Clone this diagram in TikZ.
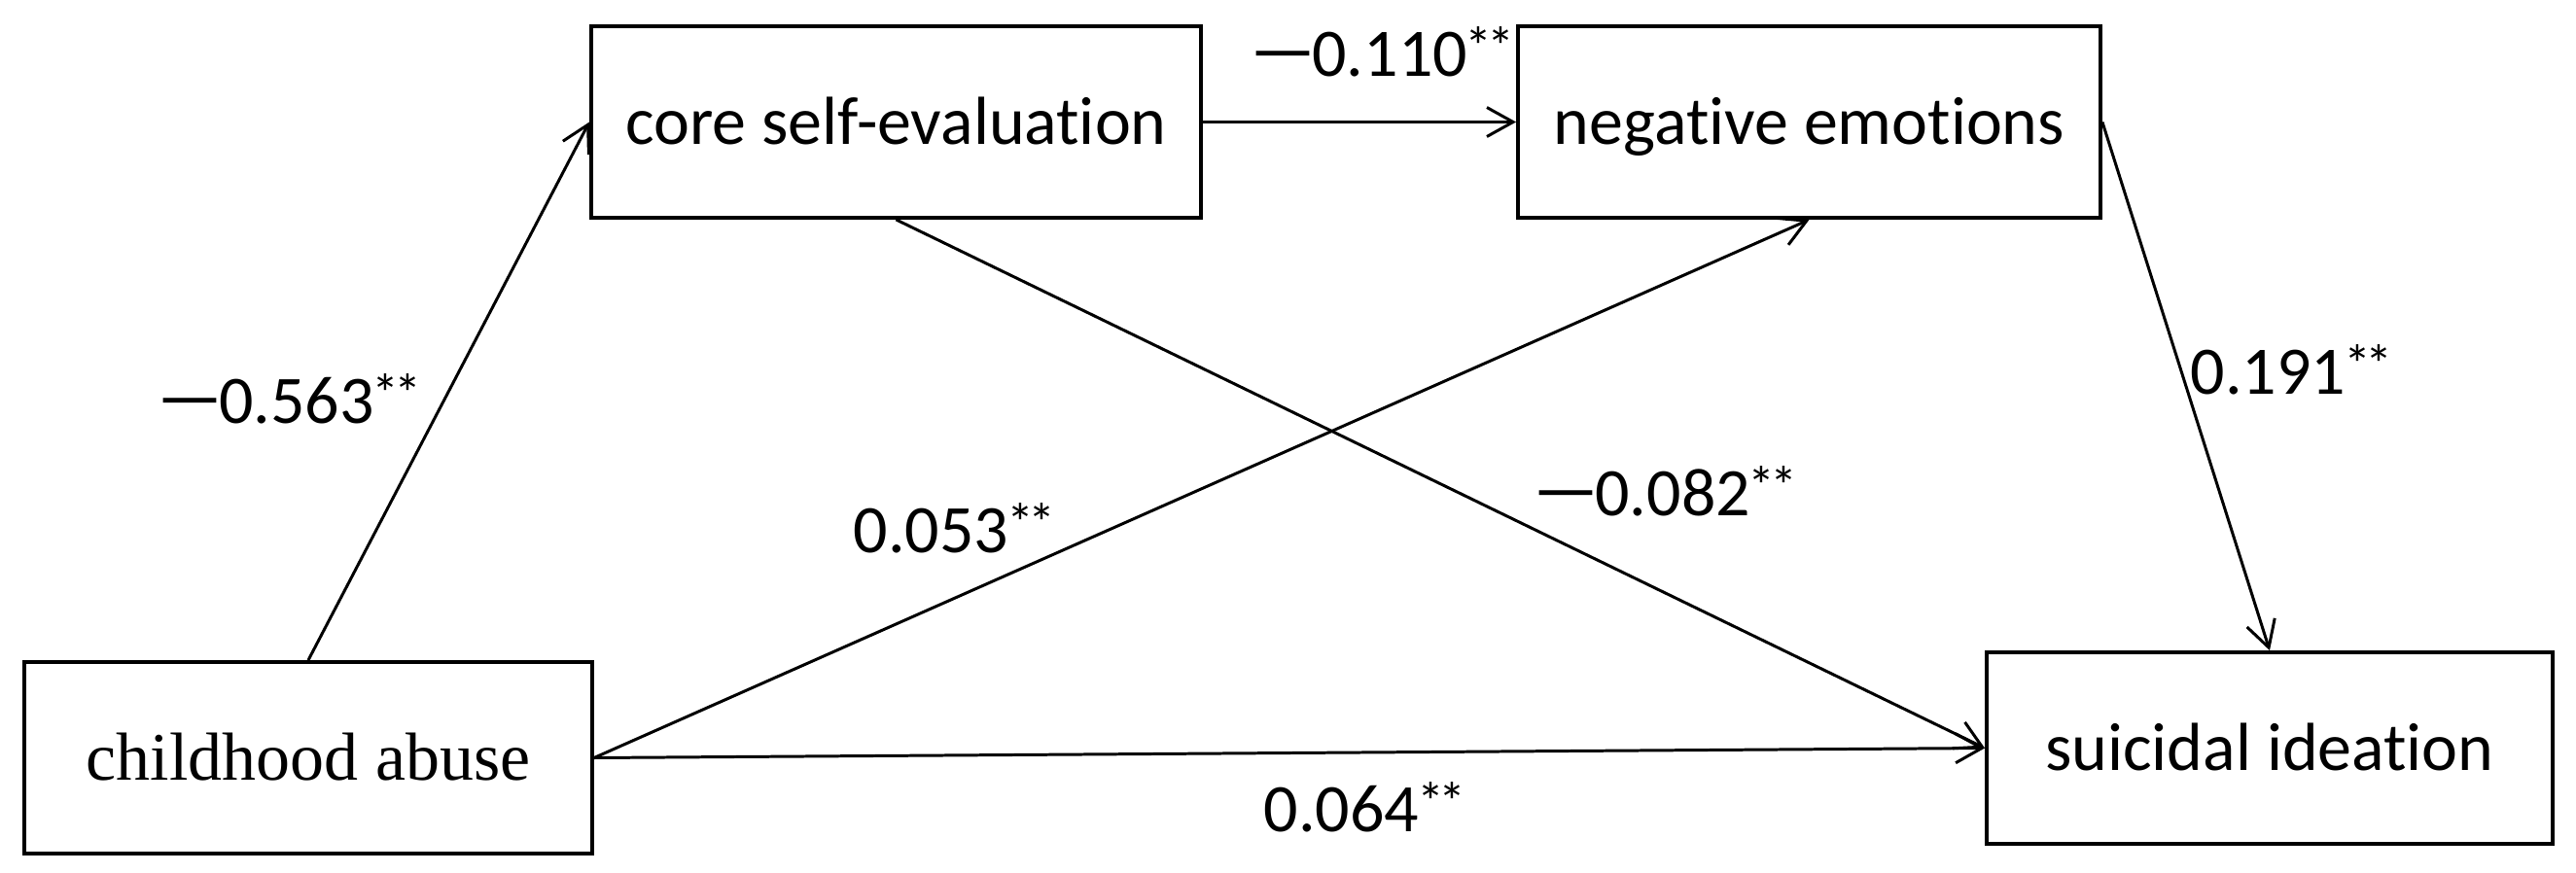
\documentclass[tikz,border=0pt]{standalone}
\usepackage{fontspec}
\setmainfont{Carlito}[Ligatures={NoCommon,NoRare,NoContextual}]
\newfontfamily\serifbox{Liberation Serif}
\newfontfamily\cjk{Noto Sans CJK SC}
\usetikzlibrary{arrows.meta}

\newcommand{\negdash}{{\cjk\fontsize{17pt}{17pt}\selectfont 一}}
\newcommand{\sig}{\kern-0.03em\raisebox{0.15em}{\fontsize{16pt}{16pt}\selectfont *\kern-0.1em*}}

\begin{document}
\begin{tikzpicture}[
    font=\fontsize{19.9pt}{24pt}\selectfont,
    >={Straight Barb[length=0.27cm, width=0.30cm]},
    varbox/.style={draw, line width=1.1pt, minimum width=#1, minimum height=1.97cm, inner sep=0pt, text height=0.46cm, text depth=0pt},
    link/.style={->, line width=0.85pt},
    coef/.style={anchor=base west, inner sep=0pt}
]
    \useasboundingbox (0,0) rectangle (26.49,-8.97);

    \node[varbox=6.27cm] (core) at (9.215,-1.255) {core self-evaluation};
    \node[varbox=5.99cm] (negemo) at (18.605,-1.255) {negative emotions};
    \node[varbox=5.84cm] (abuse) at (3.17,-7.795) {\serifbox childhood abuse};
    \node[varbox=5.82cm] (suicide) at (23.34,-7.695) {suicidal ideation};

    \draw[link] (abuse.north) -- (core.west);
    \draw[link] (core.east) -- (negemo.west);
    \draw[link] (core.south) -- (suicide.west);
    \draw[link] (abuse.east) -- (negemo.south);
    \draw[link] (abuse.east) -- (suicide.west);
    \draw[link] (negemo.east) -- (suicide.north);

    \node[coef] (c563) at (1.65,-4.35) {\negdash0.563\sig};
    \node[coef] (c110) at (12.89,-0.78) {\negdash0.110\sig};
    \node[coef] (c191) at (22.52,-4.05) {0.191\sig};
    \node[coef] (c053) at (8.77,-5.68) {0.053\sig};
    \node[coef] (c082) at (15.80,-5.30) {\negdash0.082\sig};
    \node[coef] (c064) at (12.99,-8.55) {0.064\sig};
\end{tikzpicture}
\end{document}
